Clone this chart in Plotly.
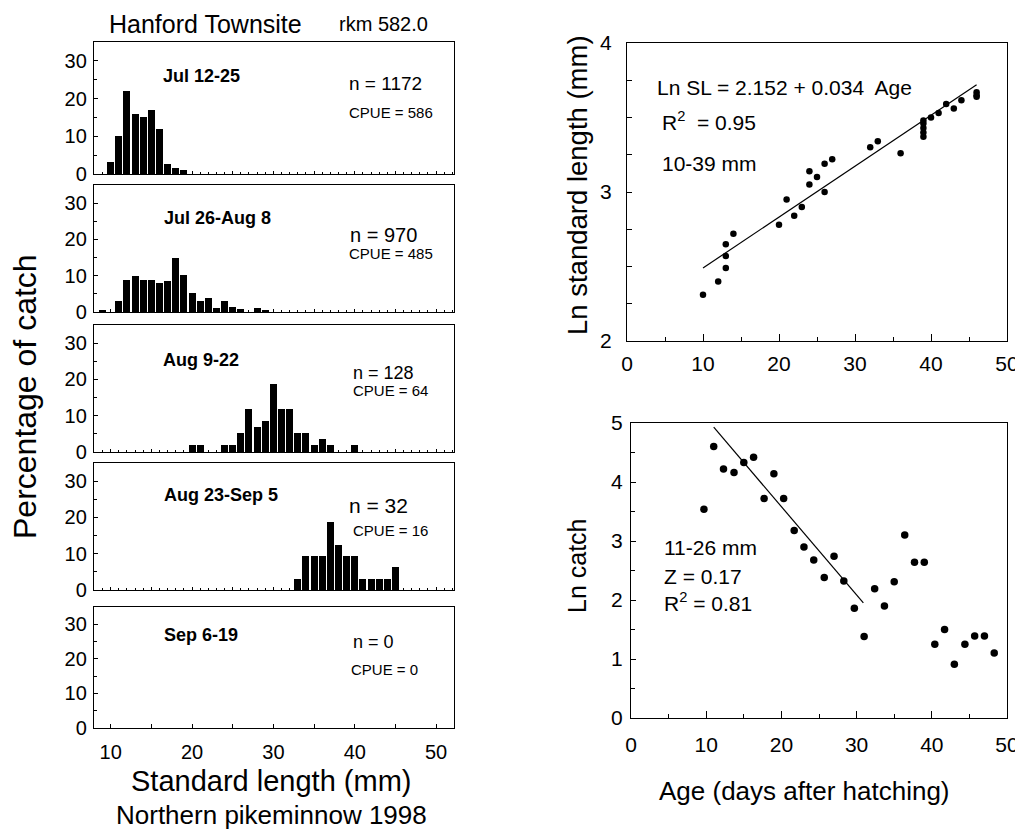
import plotly.graph_objects as go

REF_W, REF_H = 1023, 837
PAGE_OFFSET = 8          # default body margin of the written html page
W, H = REF_W - PAGE_OFFSET, REF_H - PAGE_OFFSET
FONT = "Arial, Liberation Sans, sans-serif"

# ---------------- data ----------------
# Length-frequency histograms (percentage of catch per 1-mm standard length bin)
periods = ["Jul 12-25", "Jul 26-Aug 8", "Aug 9-22", "Aug 23-Sep 5", "Sep 6-19"]
n_labels = ["n = 1172", "n = 970", "n = 128", "n = 32", "n = 0"]
cpue_labels = ["CPUE = 586", "CPUE = 485", "CPUE = 64", "CPUE = 16", "CPUE = 0"]

bins_1 = [10, 11, 12, 13, 14, 15, 16, 17, 18, 19]
pct_1 = [3.3, 10.1, 22.0, 16.0, 15.2, 16.9, 11.9, 2.6, 1.7, 1.0]

bins_2 = [9, 11, 12, 13, 14, 15, 16, 17, 18, 19, 20, 21, 22, 23, 24, 25, 26, 28, 29]
pct_2 = [0.5, 2.9, 8.9, 9.85, 8.9, 8.9, 8.0, 8.5, 14.9, 10.3, 5.2, 2.9, 3.8, 1.1, 2.9, 1.5, 0.9, 1.1, 0.6]

bins_3 = [20, 21, 24, 25, 26, 27, 28, 29, 30, 31, 32, 33, 34, 35, 36, 37, 40]
pct_3 = [1.8, 1.8, 1.8, 1.8, 5.3, 11.9, 6.9, 8.6, 18.7, 11.9, 11.9, 5.3, 5.3, 1.8, 3.5, 1.8, 1.8]

bins_4 = [33, 34, 35, 36, 37, 38, 39, 40, 41, 42, 43, 44, 45]
pct_4 = [3.1, 9.4, 9.4, 9.4, 18.8, 12.5, 9.4, 9.4, 3.1, 3.1, 3.1, 3.1, 6.3]

bins_5 = []
pct_5 = []

# Age vs Ln standard length
age_sl = [10, 12, 13, 13, 13, 14, 20, 21, 22, 23, 24, 24, 25, 26, 26, 27, 32, 33, 36,
          39, 39, 39, 39, 39, 40, 41, 42, 43, 44, 46, 46, 46]
ln_sl = [2.31, 2.40, 2.49, 2.57, 2.65, 2.72, 2.78, 2.95, 2.84, 2.90, 3.05, 3.14, 3.10, 3.00, 3.19, 3.22, 3.30, 3.34, 3.26,
         3.37, 3.40, 3.43, 3.46, 3.48, 3.50, 3.53, 3.59, 3.56, 3.615, 3.64, 3.65, 3.67]
fit_sl_age = [10, 46]
fit_sl_val = [2.49, 3.72]

# Age vs Ln catch
age_catch = [9.7, 11.0, 12.3, 13.7, 15.0, 16.3, 17.7, 19.0, 20.3, 21.7, 23.0, 24.3, 25.7, 27.0, 28.3,
             29.7, 31.0, 32.4, 33.7, 35.0, 36.4, 37.7, 39.0, 40.4, 41.7, 43.0, 44.4, 45.7, 47.0, 48.3]
ln_catch = [3.54, 4.60, 4.22, 4.16, 4.33, 4.42, 3.72, 4.14, 3.72, 3.18, 2.90, 2.68, 2.38, 2.74, 2.32,
            1.86, 1.38, 2.19, 1.90, 2.31, 3.10, 2.64, 2.64, 1.25, 1.50, 0.91, 1.25, 1.39, 1.39, 1.10]
fit_catch_age = [11.0, 30.9]
fit_catch_val = [4.93, 1.95]

hist_ticks = [10, 20, 30, 40, 50]
hist_yticks = [0, 10, 20, 30]

# ---------------- helpers (reference pixel -> paper) ----------------
def fx(px):
    return (px - PAGE_OFFSET) / W

def fy(py):
    return 1 - (py - PAGE_OFFSET) / H

fig = go.Figure()

base_axis = dict(showline=True, mirror=True, linecolor="black", linewidth=1.3,
                 ticks="inside", tickcolor="black", tickwidth=1, showgrid=False,
                 zeroline=False, automargin=False,
                 tickfont=dict(family=FONT, size=20, color="black"))

hist_bins = [bins_1, bins_2, bins_3, bins_4, bins_5]
hist_pct = [pct_1, pct_2, pct_3, pct_4, pct_5]
panel_px = [(42, 174), (185, 312), (325, 452), (463, 590), (607, 728)]
hist_x_px = (94, 454)

layout = {}
for i in range(5):
    k = i + 1
    xname = "x" if k == 1 else f"x{k}"
    yname = "y" if k == 1 else f"y{k}"
    fig.add_trace(go.Bar(x=hist_bins[i], y=hist_pct[i], width=0.86,
                         marker=dict(color="black", line=dict(width=0)),
                         xaxis=xname, yaxis=yname, showlegend=False))
    top, bot = panel_px[i]
    xa = dict(base_axis)
    xa.update(domain=[fx(hist_x_px[0]), fx(hist_x_px[1])], range=[7.95, 52.2],
              anchor=yname)
    if k < 5:
        xa.update(tickmode="linear", tick0=0, dtick=5, ticklen=3, showticklabels=False,
                  minor=dict(ticks="inside", dtick=1, ticklen=2, tickcolor="black"))
    else:
        xa.update(tickmode="array", tickvals=hist_ticks, ticklen=4,
                  ticklabelstandoff=6,
                  minor=dict(ticks="inside", dtick=5, tick0=0, ticklen=4, tickcolor="black"))
    ya = dict(base_axis)
    ya.update(domain=[fy(bot), fy(top)], range=[0, 35], anchor=xname,
              tickmode="array", tickvals=hist_yticks, ticklen=4, ticklabelstandoff=2,
              minor=dict(ticks="inside", dtick=5, tick0=0, ticklen=3, tickcolor="black"))
    layout["xaxis" if k == 1 else f"xaxis{k}"] = xa
    layout["yaxis" if k == 1 else f"yaxis{k}"] = ya

# Right top scatter (axis 6)
fig.add_trace(go.Scatter(x=age_sl, y=ln_sl, mode="markers",
                         marker=dict(color="black", size=6.5),
                         xaxis="x6", yaxis="y6", showlegend=False))
fig.add_trace(go.Scatter(x=fit_sl_age, y=fit_sl_val, mode="lines",
                         line=dict(color="black", width=1.2),
                         xaxis="x6", yaxis="y6", showlegend=False))
xa6 = dict(base_axis)
xa6.update(domain=[fx(627), fx(1007)], range=[0, 50], anchor="y6",
           tickmode="linear", tick0=0, dtick=10, ticklen=7, ticklabelstandoff=4,
           tickfont=dict(family=FONT, size=21, color="black"),
           minor=dict(ticks="inside", dtick=5, tick0=0, ticklen=4, tickcolor="black"))
ya6 = dict(base_axis)
ya6.update(domain=[fy(341), fy(43)], range=[2, 4], anchor="x6",
           tickmode="linear", tick0=0, dtick=1, ticklen=5, ticklabelstandoff=10,
           tickfont=dict(family=FONT, size=21, color="black"),
           minor=dict(ticks="inside", dtick=0.25, tick0=0, ticklen=5, tickcolor="black"))
layout["xaxis6"] = xa6
layout["yaxis6"] = ya6

# Right bottom scatter (axis 7)
fig.add_trace(go.Scatter(x=age_catch, y=ln_catch, mode="markers",
                         marker=dict(color="black", size=7.5),
                         xaxis="x7", yaxis="y7", showlegend=False))
fig.add_trace(go.Scatter(x=fit_catch_age, y=fit_catch_val, mode="lines",
                         line=dict(color="black", width=1.2),
                         xaxis="x7", yaxis="y7", showlegend=False))
xa7 = dict(base_axis)
xa7.update(domain=[fx(631), fx(1007)], range=[0, 50], anchor="y7",
           tickmode="linear", tick0=0, dtick=10, ticklen=7, ticklabelstandoff=8,
           tickfont=dict(family=FONT, size=21, color="black"),
           minor=dict(ticks="inside", dtick=5, tick0=0, ticklen=4, tickcolor="black"))
ya7 = dict(base_axis)
ya7.update(domain=[fy(718), fy(423)], range=[0, 5], anchor="x7",
           tickmode="linear", tick0=0, dtick=1, ticklen=5, ticklabelstandoff=3,
           tickfont=dict(family=FONT, size=21, color="black"),
           minor=dict(ticks="inside", dtick=0.5, tick0=0, ticklen=4, tickcolor="black"))
layout["xaxis7"] = xa7
layout["yaxis7"] = ya7

# ---------------- annotations ----------------
ann = []

def add_text(text, px, py, size, bold=False, xanchor="center", angle=0):
    ann.append(dict(text=f"<b>{text}</b>" if bold else text, x=fx(px), y=fy(py),
                    xref="paper", yref="paper", xanchor=xanchor, yanchor="middle",
                    showarrow=False, textangle=angle,
                    font=dict(family=FONT, size=size, color="black")))

period_pos = [(201.7, 75.7), (217.2, 218.3), (201.3, 360.2), (220.8, 495), (200.8, 635)]
n_pos = [(385.7, 84), (383.8, 235), (383.3, 372.8), (378.8, 505), (373.3, 641.7)]
n_size = [19, 20, 18, 21, 18]
cpue_pos = [(390.7, 112), (391.3, 253.3), (390.5, 390.8), (390, 530), (384.2, 669.2)]
for i in range(5):
    add_text(periods[i], *period_pos[i], 18, bold=True)
    add_text(n_labels[i], *n_pos[i], n_size[i])
    add_text(cpue_labels[i], *cpue_pos[i], 15)

add_text("Hanford Townsite", 205, 24, 25)
add_text("rkm 582.0", 383, 24, 20)
add_text("Standard length (mm)", 271, 781, 29)
add_text("Northern pikeminnow 1998", 271, 815, 26)
add_text("Percentage of catch", 25, 397, 32, angle=-90)

add_text("Ln SL = 2.152 + 0.034  Age", 655, 88, 21, xanchor="left")
add_text("R<sup>2</sup>  = 0.95", 660, 121, 21, xanchor="left")
add_text("10-39 mm", 660, 163, 21, xanchor="left")
add_text("11-26 mm", 661.7, 547.5, 21, xanchor="left")
add_text("Z = 0.17", 661.7, 576.3, 21, xanchor="left")
add_text("R<sup>2</sup> = 0.81", 661.7, 602, 21, xanchor="left")

add_text("Ln standard length (mm)", 577, 185, 27.5, angle=-90)
add_text("Ln catch", 577, 566, 25, angle=-90)
add_text("Age (days after hatching)", 804, 791, 26)

fig.update_layout(**layout)
fig.update_layout(template="none", width=W, height=H, margin=dict(l=0, r=0, t=0, b=0),
                  paper_bgcolor="white", plot_bgcolor="white",
                  showlegend=False, bargap=0, annotations=ann,
                  font=dict(family=FONT, color="black"))

fig.write_html("out.html")
